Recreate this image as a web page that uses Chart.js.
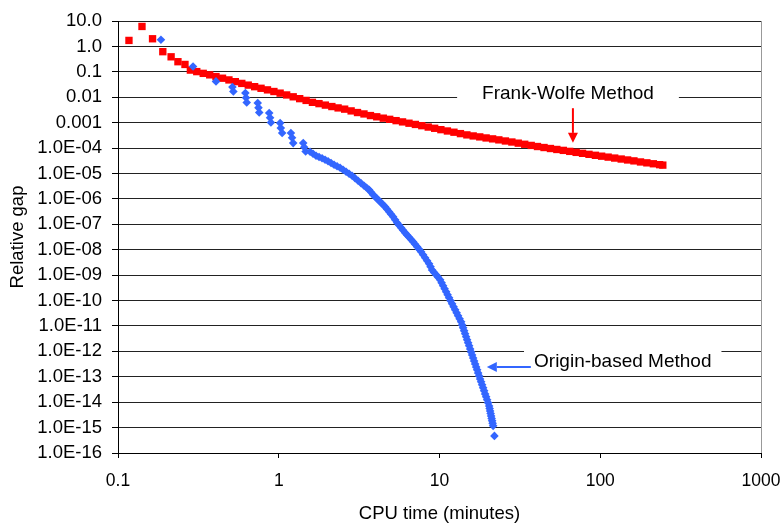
<!DOCTYPE html>
<html>
<head>
<meta charset="utf-8">
<script src="https://cdn.jsdelivr.net/npm/chart.js@4.4.0/dist/chart.umd.min.js"></script>
<style>
  html, body { margin: 0; padding: 0; background: #fff; }
</style>
</head>
<body>
<canvas id="gapChart" width="780" height="525"></canvas>
<script>
// Frank-Wolfe: CPU time (min) / relative gap
const fwTime = [
  0.117, 0.141, 0.164, 0.190, 0.214, 0.236, 0.261, 0.282, 0.309, 0.339,
  0.372, 0.407, 0.447, 0.490, 0.537, 0.589, 0.646, 0.708, 0.776, 0.851,
  0.933, 1.02, 1.12, 1.23, 1.35, 1.48, 1.62, 1.78, 1.95, 2.14,
  2.34, 2.57, 2.82, 3.09, 3.39, 3.72, 4.07, 4.47, 4.90, 5.37,
  5.89, 6.46, 7.08, 7.76, 8.51, 9.33, 10.2, 11.2, 12.3, 13.5,
  14.8, 16.2, 17.8, 19.5, 21.4, 23.4, 25.7, 28.2, 30.9, 33.9,
  37.2, 40.7, 44.7, 49.0, 53.7, 58.9, 64.6, 70.8, 77.6, 85.1,
  93.3, 102, 112, 123, 135, 148, 162, 178, 195, 214,
  234, 245
];
const fwGap = [
  1.72, 6.1, 2.0, 0.62, 0.39, 0.25, 0.195, 0.117, 0.102, 0.087,
  0.076, 0.065, 0.056, 0.048, 0.041, 0.035, 0.030, 0.026, 0.0225, 0.0195,
  0.0168, 0.0145, 0.0123, 0.0104, 0.0088, 0.0075, 0.0063, 0.0056, 0.0049, 0.0043,
  0.0038, 0.0034, 0.0029, 0.0025, 0.0022, 0.0019, 0.0017, 0.0015, 0.00135, 0.0012,
  0.00107, 0.00095, 0.00085, 0.00076, 0.00067, 0.0006, 0.00053, 0.00047, 0.00042, 0.00037,
  0.00033, 0.0003, 0.000275, 0.00025, 0.00023, 0.00021, 0.00019, 0.000173, 0.000156, 0.000141,
  0.000127, 0.000115, 0.000105, 0.000096, 0.000088, 0.000081, 0.000074, 0.0000676, 0.000062, 0.0000566,
  0.0000519, 0.0000479, 0.000044, 0.0000404, 0.000037, 0.000034, 0.0000313, 0.0000284, 0.0000262, 0.0000241,
  0.0000222, 0.0000213
];

// Origin-based: CPU time (min) / relative gap
const obTime = [
  0.185, 0.293, 0.407, 0.515, 0.522,
  0.620, 0.626, 0.632, 0.740, 0.748, 0.756,
  0.872, 0.883, 0.894, 1.02, 1.03, 1.05,
  1.19, 1.21, 1.23, 1.42, 1.44, 1.47,
  1.566, 1.634, 1.706, 1.781, 1.860, 1.942, 2.027, 2.116, 2.208, 2.305,
  2.407, 2.513, 2.624, 2.739, 2.858, 2.984, 3.115, 3.252, 3.395, 3.519,
  3.647, 3.753, 3.862, 3.974, 4.090, 4.209, 4.331, 4.457, 4.587, 4.721,
  4.858, 4.999, 5.144, 5.293, 5.447, 5.605, 5.768, 5.936, 6.108, 6.286,
  6.468, 6.656, 6.849, 7.048, 7.253, 7.464, 7.680, 7.904, 8.134, 8.371,
  8.614, 8.80, 8.99, 9.25, 9.52, 9.80, 10.09, 10.31, 10.53, 10.76,
  11.0, 11.23, 11.47, 11.72, 11.98, 12.24, 12.51, 12.78, 13.05, 13.34,
  13.63, 13.83, 14.03, 14.23, 14.43, 14.64, 14.85, 15.07, 15.29, 15.51,
  15.73, 15.96, 16.19, 16.42, 16.66, 16.90, 17.14, 17.39, 17.64, 17.89,
  18.15, 18.41, 18.68, 18.95, 19.22, 19.50, 19.78, 20.07, 20.36, 20.50,
  20.65, 20.80, 20.95, 21.10, 21.25, 21.40, 21.56, 21.96
];
const obGap = [
  1.84, 0.163, 0.042, 0.025, 0.0169,
  0.0146, 0.0096, 0.0062, 0.0059, 0.0039, 0.0025,
  0.0024, 0.00156, 0.00102, 0.00096, 0.00061, 0.00039,
  0.00039, 0.000255, 0.000157, 0.000157, 0.000107, 0.0000734,
  7.15e-5, 5.97e-5, 4.98e-5, 4.45e-5, 3.97e-5, 3.46e-5, 3.02e-5, 2.58e-5, 2.2e-5, 1.92e-5,
  1.68e-5, 1.40e-5, 1.17e-5, 9.7e-6, 8.1e-6, 6.5e-6, 5.2e-6, 4.14e-6, 3.3e-6, 2.74e-6,
  2.28e-6, 1.82e-6, 1.45e-6, 1.21e-6, 1.01e-6, 8.4e-7, 7.0e-7, 5.86e-7, 4.9e-7, 3.9e-7,
  3.1e-7, 2.47e-7, 1.97e-7, 1.5e-7, 1.15e-7, 9.2e-8, 7.3e-8, 5.8e-8, 4.6e-8, 3.78e-8,
  3.1e-8, 2.52e-8, 2.05e-8, 1.63e-8, 1.3e-8, 1.04e-8, 8.3e-9, 6.3e-9, 4.8e-9, 3.67e-9,
  2.8e-9, 2.12e-9, 1.6e-9, 1.28e-9, 1.03e-9, 8.2e-10, 6.5e-10, 4.97e-10, 3.8e-10, 2.89e-10,
  2.2e-10, 1.68e-10, 1.28e-10, 9.7e-11, 7.4e-11, 5.64e-11, 4.3e-11, 3.28e-11, 2.5e-11, 1.9e-11,
  1.45e-11, 1.1e-11, 8.4e-12, 6.4e-12, 4.9e-12, 3.73e-12, 2.84e-12, 2.16e-12, 1.65e-12, 1.25e-12,
  9.5e-13, 7.2e-13, 5.5e-13, 4.2e-13, 3.2e-13, 2.45e-13, 1.87e-13, 1.42e-13, 1.08e-13, 8.2e-14,
  6.3e-14, 4.8e-14, 3.66e-14, 2.79e-14, 2.12e-14, 1.62e-14, 1.24e-14, 9.4e-15, 7.1e-15, 5.65e-15,
  4.5e-15, 3.6e-15, 2.89e-15, 2.3e-15, 1.84e-15, 1.47e-15, 1.17e-15, 4.7e-16
];

const xTickValues = [0.1, 1, 10, 100, 1000];
const xTickLabels = ['0.1', '1', '10', '100', '1000'];
const yTickValues = [10, 1, 0.1, 0.01, 0.001, 1e-4, 1e-5, 1e-6, 1e-7, 1e-8, 1e-9,
  1e-10, 1e-11, 1e-12, 1e-13, 1e-14, 1e-15, 1e-16];
const yTickLabels = ['10.0', '1.0', '0.1', '0.01', '0.001', '1.0E-04', '1.0E-05', '1.0E-06',
  '1.0E-07', '1.0E-08', '1.0E-09', '1.0E-10', '1.0E-11', '1.0E-12', '1.0E-13', '1.0E-14',
  '1.0E-15', '1.0E-16'];

const RED = '#ff0000';
const BLUE = '#3366ff';

// callout labels with arrows (anchors in data units)
const notes = [
  { text: 'Frank-Wolfe Method', x: 63, y: 0.0137, padX: 25, color: RED,
    from: [67.6, 3.7e-3], to: [67.6, 1.6e-4] },
  { text: 'Origin-based Method', x: 138, y: 3.9e-13, padX: 10, color: BLUE,
    from: [37, 2.45e-13], to: [19.7, 2.45e-13] }
];

const calloutPlugin = {
  id: 'callouts',
  afterDatasetsDraw(chart) {
    const ctx = chart.ctx;
    const xs = chart.scales.x, ys = chart.scales.y;
    ctx.save();
    ctx.font = '19px "Liberation Sans", Arial, sans-serif';
    notes.forEach(n => {
      const cx = xs.getPixelForValue(n.x);
      const cy = ys.getPixelForValue(n.y);
      const w = ctx.measureText(n.text).width;
      ctx.fillStyle = '#fff';
      ctx.fillRect(cx - w / 2 - n.padX, cy - 11, w + 2 * n.padX, 22);
      ctx.fillStyle = '#000';
      ctx.textAlign = 'center';
      ctx.textBaseline = 'middle';
      ctx.fillText(n.text, cx, cy);

      const x1 = xs.getPixelForValue(n.from[0]), y1 = ys.getPixelForValue(n.from[1]);
      const x2 = xs.getPixelForValue(n.to[0]), y2 = ys.getPixelForValue(n.to[1]);
      const ang = Math.atan2(y2 - y1, x2 - x1);
      const head = 10;
      ctx.strokeStyle = n.color;
      ctx.fillStyle = n.color;
      ctx.lineWidth = 2;
      ctx.beginPath();
      ctx.moveTo(x1, y1);
      ctx.lineTo(x2 - Math.cos(ang) * head, y2 - Math.sin(ang) * head);
      ctx.stroke();
      ctx.beginPath();
      ctx.moveTo(x2, y2);
      ctx.lineTo(x2 - Math.cos(ang) * head - Math.sin(ang) * 5, y2 - Math.sin(ang) * head + Math.cos(ang) * 5);
      ctx.lineTo(x2 - Math.cos(ang) * head + Math.sin(ang) * 5, y2 - Math.sin(ang) * head - Math.cos(ang) * 5);
      ctx.closePath();
      ctx.fill();
    });
    ctx.restore();
  }
};

Chart.defaults.font.family = '"Liberation Sans", Arial, sans-serif';
Chart.defaults.color = '#000';

const ctx = document.getElementById('gapChart').getContext('2d');
new Chart(ctx, {
  type: 'scatter',
  data: {
    datasets: [
      {
        label: 'Origin-based Method',
        data: obTime.map((t, i) => ({ x: t, y: obGap[i] })),
        pointStyle: 'rectRot',
        pointRadius: 4.3,
        pointBorderWidth: 0,
        backgroundColor: BLUE,
        borderColor: BLUE
      },
      {
        label: 'Frank-Wolfe Method',
        data: fwTime.map((t, i) => ({ x: t, y: fwGap[i] })),
        pointStyle: 'rect',
        pointRadius: 5.2,
        pointBorderWidth: 0,
        backgroundColor: RED,
        borderColor: RED
      }
    ]
  },
  options: {
    responsive: false,
    animation: false,
    events: [],
    layout: { padding: { top: 21, right: 0, bottom: 0, left: 0 } },
    plugins: { legend: { display: false }, tooltip: { enabled: false } },
    scales: {
      x: {
        type: 'logarithmic',
        min: 0.1,
        max: 1000,
        afterBuildTicks: s => { s.ticks = xTickValues.map(v => ({ value: v })); },
        afterFit: s => { s.height = 72; s.paddingLeft = 0; s.paddingRight = 19; },
        ticks: {
          autoSkip: false,
          maxRotation: 0,
          padding: 13,
          font: { size: 17.5 },
          callback: v => xTickLabels[xTickValues.indexOf(v)]
        },
        grid: {
          color: c => (c.tick && c.tick.value === 1000 ? '#999' : 'rgba(0,0,0,0)'),
          tickColor: '#000',
          tickLength: 5
        },
        border: { color: '#000', width: 1 },
        title: { display: true, text: 'CPU time (minutes)', font: { size: 18.5 }, padding: { top: 0, bottom: 0 } }
      },
      y: {
        type: 'logarithmic',
        min: 1e-16,
        max: 10,
        afterBuildTicks: s => { s.ticks = yTickValues.slice().reverse().map(v => ({ value: v })); },
        afterFit: s => { s.width = 118; s.paddingTop = 0; s.paddingBottom = 0; },
        ticks: {
          autoSkip: false,
          padding: 10,
          font: { size: 18.5 },
          callback: v => yTickLabels[yTickValues.indexOf(v)]
        },
        grid: { color: '#222', tickColor: '#000', tickLength: 6 },
        border: { color: '#000', width: 1 },
        title: { display: true, text: 'Relative gap', font: { size: 18.5 }, padding: { top: 7, bottom: 0 } }
      }
    }
  },
  plugins: [calloutPlugin]
});
</script>
</body>
</html>
